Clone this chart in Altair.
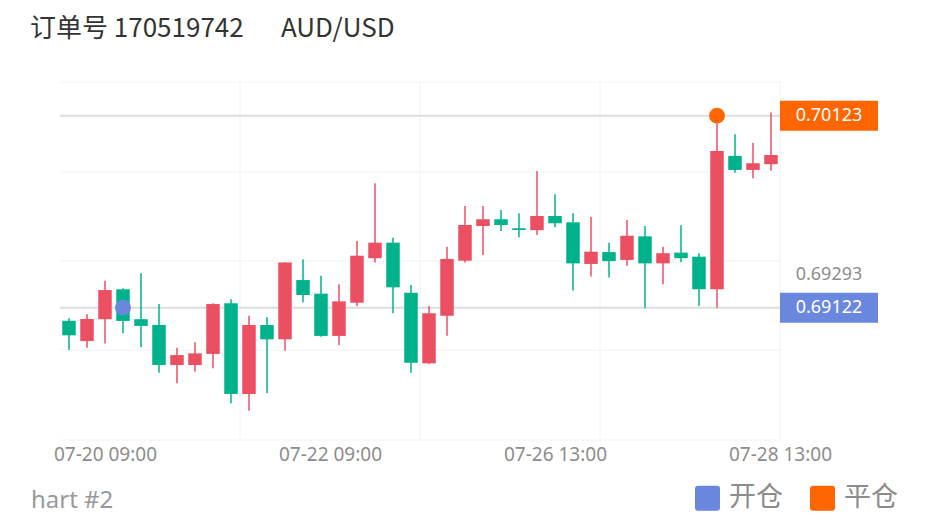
import altair as alt
import pandas as pd

# ---- data ----
opens  = [0.69054, 0.68948, 0.69062, 0.69218, 0.69062, 0.69032, 0.68823, 0.68823, 0.68881, 0.69145,
          0.68672, 0.69032, 0.68957, 0.69266, 0.69195, 0.68975, 0.69148, 0.69380, 0.69461, 0.69200,
          0.68832, 0.69080, 0.69367, 0.69548, 0.69583, 0.69536, 0.69526, 0.69600, 0.69567, 0.69350,
          0.69412, 0.69371, 0.69494, 0.69353, 0.69409, 0.69388, 0.69218, 0.69913, 0.69840, 0.69870]
highs  = [0.69067, 0.69089, 0.69263, 0.69223, 0.69301, 0.69141, 0.68913, 0.68942, 0.69145, 0.69166,
          0.69080, 0.69072, 0.69360, 0.69374, 0.69289, 0.69244, 0.69470, 0.69771, 0.69487, 0.69240,
          0.69131, 0.69440, 0.69652, 0.69652, 0.69631, 0.69614, 0.69835, 0.69713, 0.69614, 0.69596,
          0.69461, 0.69579, 0.69548, 0.69440, 0.69552, 0.69406, 0.70123, 0.70026, 0.69982, 0.70139]
lows   = [0.68902, 0.68913, 0.68936, 0.68989, 0.68916, 0.68783, 0.68728, 0.68788, 0.68806, 0.68624,
          0.68585, 0.68676, 0.68898, 0.69150, 0.68971, 0.68928, 0.69131, 0.69357, 0.69093, 0.68783,
          0.68828, 0.68976, 0.69357, 0.69397, 0.69522, 0.69489, 0.69501, 0.69541, 0.69211, 0.69284,
          0.69280, 0.69341, 0.69122, 0.69244, 0.69359, 0.69131, 0.69122, 0.69826, 0.69797, 0.69836]
closes = [0.68978, 0.69063, 0.69214, 0.69053, 0.69027, 0.68823, 0.68875, 0.68884, 0.69141, 0.68672,
          0.69032, 0.68957, 0.69357, 0.69188, 0.68975, 0.69155, 0.69393, 0.69461, 0.69228, 0.68835,
          0.69093, 0.69376, 0.69553, 0.69583, 0.69553, 0.69527, 0.69600, 0.69562, 0.69353, 0.69414,
          0.69365, 0.69497, 0.69353, 0.69406, 0.69380, 0.69218, 0.69939, 0.69840, 0.69875, 0.69918]

tick_pos    = [2.5, 15, 27.5, 40]
tick_labels = ["07-20 09:00", "07-22 09:00", "07-26 13:00", "07-28 13:00"]
grid_x      = [10, 20, 30, 40]
grid_y      = [0.68435, 0.689015, 0.69368, 0.698345, 0.70301]

marker_idx    = [3, 36]
marker_price  = [0.69122, 0.70123]
marker_label  = ["开仓", "平仓"]

tag_prices = [0.70123, 0.69122]
tag_colors = ["#FF6600", "#6A87DE"]
plain_tag  = [0.69293]

title_parts = ["订单号 170519742", "AUD/USD"]
footer_text = ["hart #2"]

RED, GREEN = "#EB5062", "#00B28C"
BLUE, ORANGE = "#6A87DE", "#FF6600"

# ---- tables ----
n = len(opens)
df = pd.DataFrame({"i": list(range(n)), "open": opens, "high": highs, "low": lows, "close": closes})
df["c"] = df["i"] + 0.5
df["xl"] = df["i"] + 0.125
df["xr"] = df["i"] + 0.875
df["col"] = [RED if c >= o else GREEN for o, c in zip(opens, closes)]

mk = pd.DataFrame({"c": [m + 0.5 for m in marker_idx], "p": marker_price, "k": marker_label})
tags = pd.DataFrame({"p": tag_prices, "col": tag_colors, "t": [f"{v:.5f}" for v in tag_prices]})
ptag = pd.DataFrame({"p": plain_tag, "t": [f"{v:.5f}" for v in plain_tag]})

xs = alt.Scale(domain=[0, 40], nice=False, zero=False)
ys = alt.Scale(domain=[grid_y[0], grid_y[-1]], nice=False, zero=False)

label_expr = " : ".join(f"datum.value == {p} ? '{l}'" for p, l in zip(tick_pos, tick_labels)) + " : ''"

Xax = alt.Axis(values=tick_pos, labelExpr=label_expr, grid=False, domain=False, ticks=False,
               title=None, labelFlush=False, labelOverlap=False, labelFontSize=19,
               labelFont="Noto Sans", labelColor="#8C8C8C", labelPadding=6)
Yax = alt.Axis(values=grid_y, grid=True, gridColor="#F2F2F2", gridWidth=1, labels=False,
               ticks=False, domain=False, title=None)

vgrid = alt.Chart(pd.DataFrame({"g": grid_x})).mark_rule(color="#F2F2F2", strokeWidth=1).encode(
    x=alt.X("g:Q", scale=xs, axis=Xax))

base = alt.Chart(df)
wicks = base.mark_rule(strokeWidth=1.5).encode(
    x=alt.X("c:Q", scale=xs, axis=Xax),
    y=alt.Y("low:Q", scale=ys, axis=Yax),
    y2="high:Q",
    color=alt.Color("col:N", scale=None))
bodies = base.mark_rect().encode(
    x=alt.X("xl:Q", scale=xs, axis=Xax),
    x2="xr:Q",
    y=alt.Y("open:Q", scale=ys, axis=Yax),
    y2="close:Q",
    color=alt.Color("col:N", scale=None))

plines = alt.Chart(tags).mark_rule(color="#DCDCDC", strokeWidth=2).encode(
    y=alt.Y("p:Q", scale=ys, axis=Yax))

rounded = ("M-1,-0.76 Q-1,-1 -0.76,-1 L0.76,-1 Q1,-1 1,-0.76 L1,0.76 Q1,1 0.76,1 "
           "L-0.76,1 Q-1,1 -1,0.76 Z")
markers = alt.Chart(mk).mark_circle(size=250, opacity=1).encode(
    x=alt.X("c:Q", scale=xs, axis=Xax),
    y=alt.Y("p:Q", scale=ys, axis=Yax),
    color=alt.Color("k:N", scale=alt.Scale(domain=marker_label, range=[BLUE, ORANGE]),
                    legend=alt.Legend(title=None, orient="none", direction="horizontal",
                                      legendX=634, legendY=403, symbolType=rounded, symbolSize=625,
                                      symbolStrokeWidth=0, labelFontSize=27,
                                      labelFont="Noto Sans CJK SC", labelColor="#8C8C8C",
                                      labelOffset=8, columnPadding=26, padding=0)))

box = ("M-1,-0.306 L1,-0.306 L1,0.306 L-1,0.306 Z")
tag_boxes = alt.Chart(tags).mark_point(shape=box, size=98 * 98, filled=True, opacity=1,
                                       xOffset=49).encode(
    x=alt.datum(40, scale=xs), y=alt.Y("p:Q", scale=ys), color=alt.Color("col:N", scale=None))
tag_text = alt.Chart(tags).mark_text(color="white", fontSize=18, font="Noto Sans",
                                     xOffset=49, baseline="middle").encode(
    x=alt.datum(40, scale=xs), y=alt.Y("p:Q", scale=ys), text="t:N")
ptag_text = alt.Chart(ptag).mark_text(color="#8C8C8C", fontSize=18, font="Noto Sans",
                                      xOffset=49, baseline="middle").encode(
    x=alt.datum(40, scale=xs), y=alt.Y("p:Q", scale=ys), text="t:N")

title1 = alt.Chart(pd.DataFrame({"t": [title_parts[0]]})).mark_text(
    font="Noto Sans CJK SC", fontSize=26, color="#333333", align="left", baseline="alphabetic").encode(
    x=alt.value(-30), y=alt.value(-45), text="t:N")
title2 = alt.Chart(pd.DataFrame({"t": [title_parts[1]]})).mark_text(
    font="Noto Sans CJK SC", fontSize=26, color="#333333", align="left", baseline="alphabetic").encode(
    x=alt.value(221), y=alt.value(-45), text="t:N")
footer = alt.Chart(pd.DataFrame({"t": footer_text})).mark_text(
    font="Noto Sans", fontSize=24, color="#999999", align="left", baseline="alphabetic").encode(
    x=alt.value(-29), y=alt.value(426), text="t:N")

chart = alt.layer(vgrid, plines, wicks, bodies, markers, tag_boxes, tag_text, ptag_text,
                  title1, title2, footer).properties(
    width=720, height=358,
    autosize=alt.AutoSizeParams(type="none"),
    padding={"left": 52, "top": 73.5, "right": 142, "bottom": 80.5},
).configure(background="white").configure_view(stroke=None)

chart.save("out.html", embed_options={"renderer": "svg", "actions": False})
